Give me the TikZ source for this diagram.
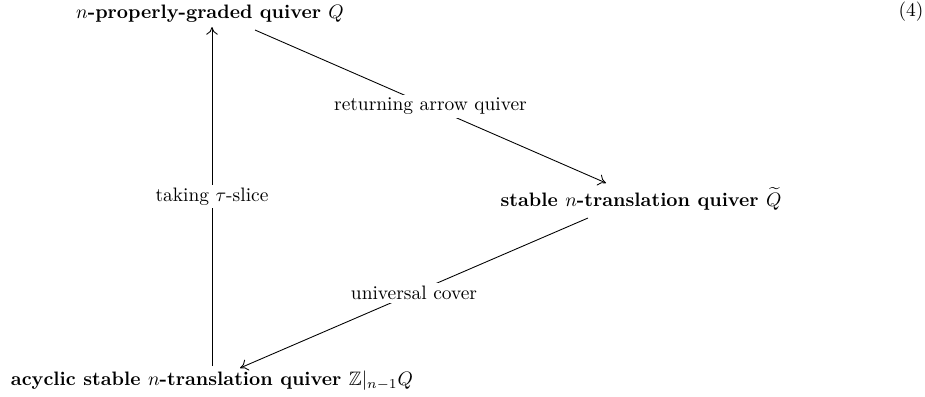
\documentclass[tikz,border=0pt]{standalone}
\usepackage{amsmath,amssymb}
\usetikzlibrary{arrows.meta}
\begin{document}
\begin{tikzpicture}[x=0.514pt,y=-0.514pt,
  obj/.style={inner sep=1pt,font=\bfseries},
  lbl/.style={fill=white,inner sep=1.5pt},
  arr/.style={-{To[length=4pt,width=6pt]},line width=0.45pt}]
\useasboundingbox (0,0) rectangle (925,396);
\node[obj] (top) at (210,14) {$n$-properly-graded quiver $Q$};
\node[obj] (right) at (641,199) {stable $n$-translation quiver $\widetilde{Q}$};
\node[obj] (bot) at (212,381) {acyclic stable $n$-translation quiver $\mathbb{Z}|_{n-1}Q$};
\node (eq) at (911,12) {(4)};
\coordinate (a1) at (255,30);
\coordinate (a2) at (606,183);
\coordinate (b1) at (588,218);
\coordinate (b2) at (240,368);
\coordinate (c1) at (212,366);
\coordinate (c2) at (212,27);
\draw[arr] (a1) -- node[lbl] {returning arrow quiver} (a2);
\draw[arr] (b1) -- node[lbl] {universal cover} (b2);
\draw[arr] (c1) -- node[lbl] {taking $\tau$-slice} (c2);
\end{tikzpicture}
\end{document}
